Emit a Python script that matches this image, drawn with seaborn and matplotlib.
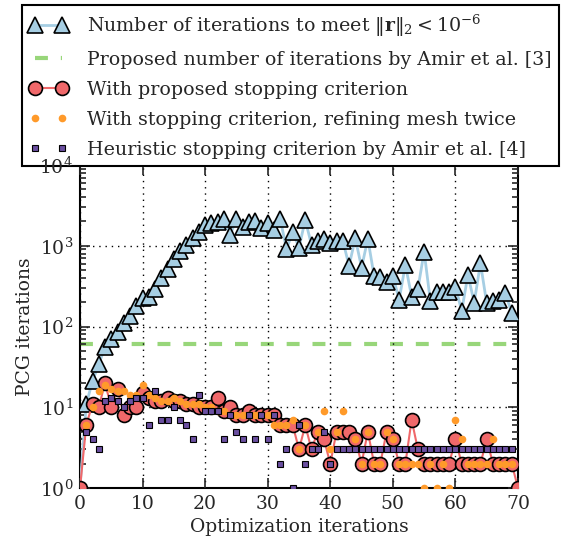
import numpy as np
import pandas as pd
import matplotlib
matplotlib.use("Agg")
import matplotlib.pyplot as plt
import seaborn as sns

# ---------------- data ----------------
iters = list(range(0, 71))

residual_iters = [1, 11, 21, 34, 56, 70, 85, 112, 136, 180, 228, 235, 290, 397, 517, 682,
                  865, 1035, 1260, 1480, 1800, 1940, 1990, 2140, 1365, 2120, 1700, 1990,
                  2050, 1650, 1940, 1575, 2140, 908, 1480, 950, 2090, 1025, 1160, 1220,
                  1075, 1150, 1160, 565, 1240, 537, 1220, 424, 415, 360, 427, 214, 580,
                  235, 292, 848, 204, 266, 271, 271, 312, 156, 436, 198, 608, 194, 204,
                  210, 258, 146, np.nan]

amir_proposed = 60

proposed = [1, 6, 11, 10, 20, 10, 17, 8, 10, 10, 15, 13, 12, 12, 13, 12, 12, 11, 11, 10,
            10, 10, 13, 9, 10, 8, 8, 9, 8, 8, 8, 8, 6, 6, 6, 3, 6, 3, 5, 4, 2, 5, 5, 5, 4,
            2, 5, 2, 2, 5, 4, 2, 2, 7, 3, 2, 2, 2, 2, 2, 4, 2, 2, 2, 2, 4, 2, 2, 2, 2, 1]

refined = [np.nan, 6, 10, 16, 19, 17, 16, 16, 14, 14, 19, 14, 13, 12, 12, 13, 12, 11, 11,
           11, 10, 10, 9, 9, 8, 8, 8, 8, 8, 8, 8, 6, 6, 6, 7, 3, 6, 3, 5, 9, 3, 5, 9, 3, 4,
           2, 5, 2, 2, 5, 4, 2, 2, 2, 2, 1, 2, 1, 2, 1, 7, 4, 2, 2, 2, 2, 4, 2, 2, 2, np.nan]

heuristic = [np.nan, 5, 4, 3, 12, 13, 12, 10, 12, 13, 13, 6, 16, 7, 7, 10, 7, 6, 4, 14, 9,
             9, 9, 4, 8, 5, 4, 8, 4, 8, 4, 8, 2, 3, 1, 6, 2, 3, 3, 5, 2,
             3, 3, 3, 3, 3, 3, 3, 3, 3, 3, 3, 3, 3, 3, 3, 3, 3, 3, 3, 3, 3, 3, 3, 3, 3, 3,
             3, 3, 3, np.nan]

labels = [r"Number of iterations to meet $\|\mathbf{r}\|_2 < 10^{-6}$",
          "Proposed number of iterations by Amir et al. [3]",
          "With proposed stopping criterion",
          "With stopping criterion, refining mesh twice",
          "Heuristic stopping criterion by Amir et al. [4]"]

# ---------------- style ----------------
sns.set_style("ticks")
plt.rcParams["font.family"] = ["DejaVu Serif"]
plt.rcParams["mathtext.fontset"] = "dejavuserif"
plt.rcParams["font.size"] = 13

fig = plt.figure(figsize=(5.79, 5.43), dpi=100)
ax = fig.add_axes([80 / 579, 1 - 488 / 543, 438 / 579, 323 / 543])

df = pd.DataFrame({"it": iters, "res": residual_iters, "prop": proposed,
                   "ref": refined, "heur": heuristic})

sns.lineplot(data=df, x="it", y="res", ax=ax, color="#a6cee3", lw=2,
             marker="^", markersize=11.5, markerfacecolor="#a6cee3",
             markeredgecolor="black", markeredgewidth=1.2, label=labels[0],
             estimator=None, errorbar=None, zorder=3)
sns.lineplot(x=[0, 70], y=[amir_proposed, amir_proposed], ax=ax, color="#98d67a",
             lw=3, dashes=(3.1, 3.1), label=labels[1], zorder=2)
sns.lineplot(data=df, x="it", y="prop", ax=ax, color="#f0686a", lw=1.5,
             marker="o", markersize=10, markerfacecolor="#f0686a",
             markeredgecolor="black", markeredgewidth=1.2, label=labels[2],
             estimator=None, errorbar=None, zorder=4)
sns.lineplot(data=df, x="it", y="ref", ax=ax, color="#ff9a2a", linestyle="none",
             marker="o", markersize=5.5, markeredgewidth=0, label=labels[3],
             estimator=None, errorbar=None, zorder=5)
sns.lineplot(data=df, x="it", y="heur", ax=ax, color="#6a4fa0", linestyle="none",
             marker="s", markersize=4.5, markeredgecolor="black", markeredgewidth=0.8,
             label=labels[4], estimator=None, errorbar=None, zorder=6)

ax.set_yscale("log")
ax.set_xlim(0, 70)
ax.set_ylim(1, 1e4)
ax.set_xticks(range(0, 71, 10))
ax.set_xlabel("Optimization iterations", fontsize=13.5, labelpad=4)
ax.set_ylabel("PCG iterations", fontsize=13.5)
ax.grid(True, which="major", color="black", linestyle=(0, (1, 3.5)), linewidth=1)
ax.tick_params(which="both", direction="in", top=True, right=True, labelsize=13.5,
               width=1.2)
ax.tick_params(which="major", length=7, pad=5)
ax.tick_params(which="minor", length=4)
for s in ax.spines.values():
    s.set_linewidth(1.5)
    s.set_color("black")
    s.set_zorder(2.0)

# layering: spines / x-axis below the legend, y tick labels above it
ax.xaxis.set_zorder(2.1)
ax.yaxis.set_zorder(2.5)

handles, labs = ax.get_legend_handles_labels()
ax.get_legend().remove()
leg = ax.legend(handles, labs, loc="upper left",
                bbox_to_anchor=(22 / 579, 1 - 5 / 543), bbox_transform=fig.transFigure,
                fancybox=False, framealpha=1, edgecolor="black", fontsize=13.7,
                numpoints=2, handlelength=2.0, borderpad=0.4, labelspacing=0.63,
                handletextpad=1.0, borderaxespad=0)
leg.get_frame().set_linewidth(1.5)
leg.set_zorder(2.2)

# hide the top gridline / tick marks at 10^4 (covered by the legend in the original)
fig.canvas.draw()
locs = ax.yaxis.get_majorticklocs()
for loc, tick in zip(locs, ax.yaxis.get_major_ticks(len(locs))):
    if abs(loc - 1e4) < 1:
        tick.gridline.set_visible(False)
        tick.tick1line.set_visible(False)
        tick.tick2line.set_visible(False)

fig.savefig("out.png", dpi=100)
